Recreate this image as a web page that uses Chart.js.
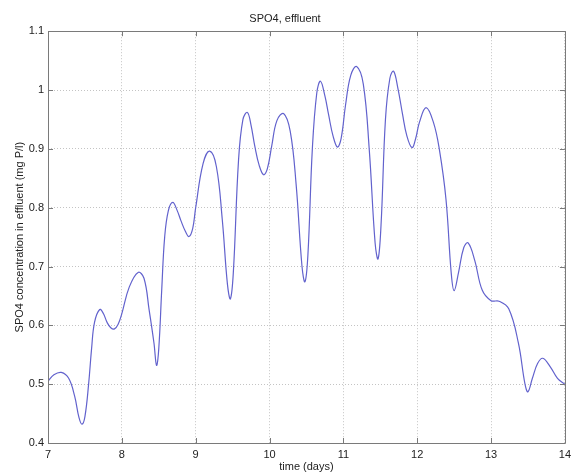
<!DOCTYPE html>
<html>
<head>
<meta charset="utf-8">
<script src="https://cdn.jsdelivr.net/npm/chart.js@4"></script>
<style>
html,body{margin:0;padding:0;background:#fff;}
#wrap{width:576px;height:475px;}
</style>
</head>
<body>
<div id="wrap"><canvas id="c" width="576" height="475"></canvas></div>
<script>
const days = [7.00,7.08,7.18,7.28,7.36,7.42,7.46,7.50,7.55,7.59,7.63,7.70,7.75,7.80,7.85,7.90,7.95,8.00,8.10,8.22,8.30,8.37,8.435,8.47,8.50,8.54,8.58,8.63,8.69,8.75,8.80,8.86,8.91,8.96,9.00,9.10,9.19,9.28,9.36,9.43,9.47,9.51,9.58,9.64,9.70,9.75,9.80,9.86,9.92,9.97,10.03,10.10,10.19,10.28,10.36,10.44,10.48,10.52,10.58,10.64,10.69,10.75,10.80,10.86,10.92,10.97,11.03,11.10,11.18,11.27,11.35,11.43,11.47,11.51,11.57,11.63,11.68,11.74,11.80,11.86,11.93,11.98,12.03,12.12,12.22,12.30,12.39,12.46,12.50,12.56,12.63,12.69,12.78,12.88,13.00,13.11,13.24,13.37,13.46,13.50,13.56,13.63,13.70,13.80,13.90,14.00];
const spo4 = [0.505,0.516,0.520,0.510,0.480,0.443,0.432,0.445,0.500,0.560,0.605,0.627,0.620,0.605,0.596,0.594,0.602,0.620,0.665,0.690,0.680,0.626,0.570,0.532,0.560,0.660,0.750,0.795,0.809,0.795,0.778,0.760,0.751,0.765,0.800,0.875,0.896,0.870,0.780,0.670,0.645,0.690,0.880,0.950,0.962,0.940,0.905,0.872,0.856,0.866,0.905,0.948,0.960,0.930,0.840,0.700,0.674,0.720,0.900,0.995,1.015,0.990,0.958,0.922,0.903,0.918,0.975,1.025,1.040,1.010,0.900,0.740,0.713,0.770,0.950,1.020,1.032,1.002,0.960,0.922,0.902,0.918,0.945,0.970,0.945,0.899,0.814,0.690,0.659,0.690,0.732,0.740,0.710,0.660,0.642,0.641,0.628,0.570,0.500,0.487,0.510,0.535,0.544,0.530,0.510,0.500];
const xTicks = [7,8,9,10,11,12,13,14];
const xTickLabels = ['7','8','9','10','11','12','13','14'];
const yTicks = [0.4,0.5,0.6,0.7,0.8,0.9,1.0,1.1];
const yTickLabels = ['0.4','0.5','0.6','0.7','0.8','0.9','1','1.1'];

const points = days.map((d,i)=>({x:d,y:spo4[i]}));
const FONT = "'Liberation Sans', Arial, Helvetica, sans-serif";

const boxPlugin = {
  id:'box',
  afterDraw(chart){
    const {ctx, chartArea:a, scales} = chart;
    ctx.save();
    ctx.strokeStyle = '#7a7a7a';
    ctx.lineWidth = 1;
    ctx.beginPath();
    ctx.rect(Math.round(a.left)+0.5, Math.round(a.top)+0.5, Math.round(a.right-a.left), Math.round(a.bottom-a.top));
    ctx.stroke();
    const L = 5;
    ctx.beginPath();
    xTicks.forEach(v=>{
      const px = Math.round(scales.x.getPixelForValue(v))+0.5;
      ctx.moveTo(px,a.bottom); ctx.lineTo(px,a.bottom-L);
      ctx.moveTo(px,a.top); ctx.lineTo(px,a.top+L);
    });
    yTicks.forEach(v=>{
      const py = Math.round(scales.y.getPixelForValue(v))+0.5;
      ctx.moveTo(a.left,py); ctx.lineTo(a.left+L,py);
      ctx.moveTo(a.right,py); ctx.lineTo(a.right-L,py);
    });
    ctx.stroke();
    ctx.restore();
  }
};

new Chart(document.getElementById('c'), {
  type:'line',
  data:{datasets:[{
    data:points,
    borderColor:'rgb(98,98,205)',
    borderWidth:1.2,
    pointRadius:0,
    tension:0.4,
    fill:false
  }]},
  options:{
    responsive:false,
    animation:false,
    layout:{padding:{left:0,right:6,top:0,bottom:0}},
    plugins:{
      legend:{display:false},
      tooltip:{enabled:false},
      title:{display:true,text:'SPO4, effluent',color:'#222',font:{family:FONT,size:11,weight:'normal'},padding:{top:12,bottom:6}}
    },
    scales:{
      x:{
        type:'linear',min:7,max:14,
        afterBuildTicks(s){ s.ticks = xTicks.map(v=>({value:v})); },
        afterFit(s){ s.height = 32; },
        ticks:{color:'#222',font:{family:FONT,size:11},padding:5,maxRotation:0,
          callback:(v)=>{const i=xTicks.indexOf(Math.round(v)); return i>=0?xTickLabels[i]:'';}},
        grid:{color:'#c4c4c4',drawTicks:false,lineWidth:1},
        border:{display:false,dash:[1,2]},
        title:{display:true,text:'time (days)',color:'#222',font:{family:FONT,size:11},padding:{top:0,bottom:1}}
      },
      y:{
        type:'linear',min:0.4,max:1.1,
        afterBuildTicks(s){ s.ticks = yTicks.map(v=>({value:v})); },
        afterFit(s){ s.width = 48; },
        ticks:{color:'#222',font:{family:FONT,size:11},padding:4,
          callback:(v)=>{const i=yTicks.findIndex(t=>Math.abs(t-v)<1e-6); return i>=0?yTickLabels[i]:'';}},
        grid:{color:'#c4c4c4',drawTicks:false,lineWidth:1},
        border:{display:false,dash:[1,2]},
        title:{display:true,text:'SPO4 concentration in effluent (mg P/l)',color:'#222',font:{family:FONT,size:11},padding:{top:13,bottom:0}}
      }
    }
  },
  plugins:[boxPlugin]
});
</script>
</body>
</html>
